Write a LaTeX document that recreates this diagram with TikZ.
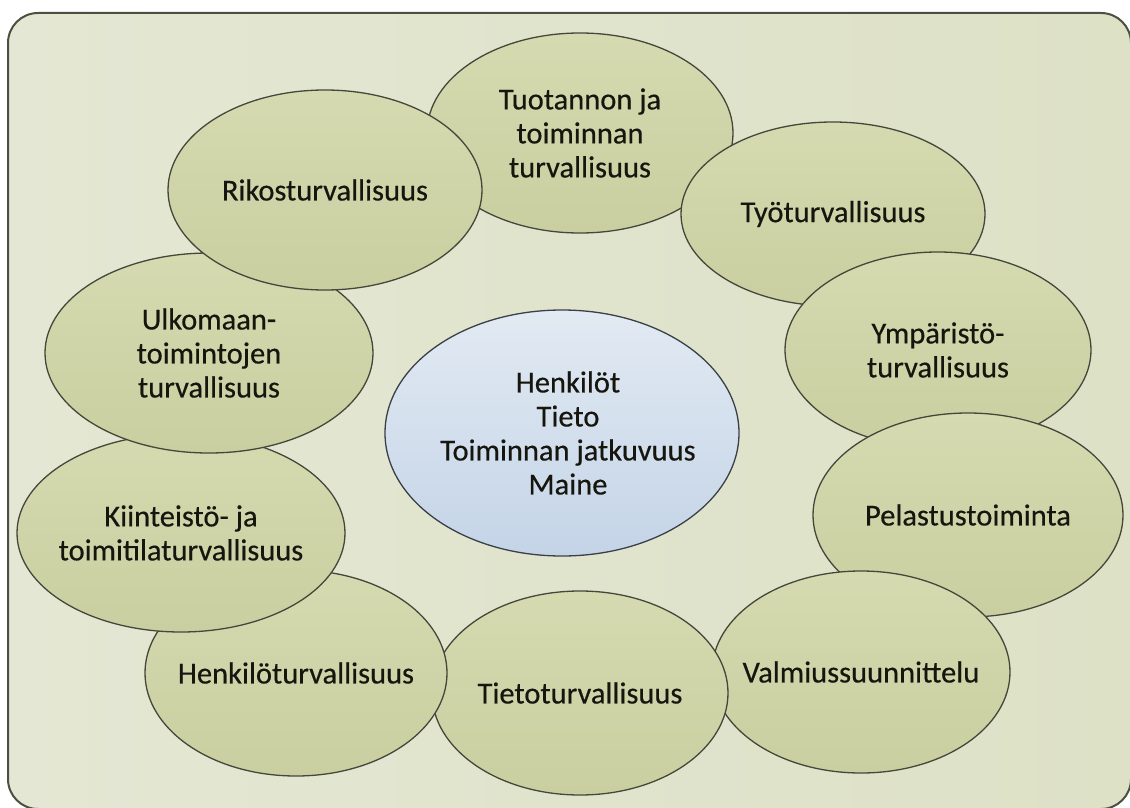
\documentclass[tikz,border=0pt]{standalone}
\usepackage{fontspec}
\setmainfont{Carlito}
\newfontfamily\lblfont{Carlito}[FakeBold=0.4]
\usetikzlibrary{shapes.geometric}
\definecolor{framefill}{HTML}{DDE1C6}
\definecolor{framefilltop}{HTML}{E4E7D3}
\definecolor{frameline}{HTML}{4B5040}
\definecolor{greentop}{HTML}{D5DAB0}
\definecolor{greenbot}{HTML}{C9CFA0}
\definecolor{ellline}{HTML}{45473A}
\definecolor{bluetop}{HTML}{E2EAF3}
\definecolor{bluebot}{HTML}{C4D4E7}
\definecolor{blueline}{HTML}{3A3F48}
\definecolor{txt}{HTML}{16160F}
\tikzset{
  bubble/.style={ellipse, draw=ellline, line width=1.3pt, top color=greentop, bottom color=greenbot, inner sep=0pt},
  core/.style={ellipse, draw=blueline, line width=1.3pt, top color=bluetop, bottom color=bluebot, inner sep=0pt},
  lbl/.style={align=center, text=txt, font=\lblfont\fontsize{30.5}{34}\selectfont, inner sep=0pt}
}
\begin{document}
\begin{tikzpicture}[x=1pt,y=-1pt]
\useasboundingbox (0,0) rectangle (1130,808);
\clip (0,0) rectangle (1130,808);
\fill[white] (0,0) rectangle (1130,808);
\draw[frameline, line width=2pt, rounded corners=30pt, left color=framefilltop, right color=framefill] (8,13) rectangle (1131,809);
% ellipses in stacking order
\node[bubble, minimum width=306pt, minimum height=200pt] (tuo) at (580,133) {};
\node[lbl] at (tuo) {Tuotannon ja\\toiminnan\\turvallisuus};
\node[bubble, minimum width=304pt, minimum height=184pt] (tyo) at (833,214) {};
\node[lbl] at (tyo) {Työturvallisuus};
\node[bubble, minimum width=306pt, minimum height=196pt] (ymp) at (938,350) {};
\node[lbl] at (ymp) {Ympäristö-\\turvallisuus};
\node[bubble, minimum width=310pt, minimum height=204pt] (pel) at (968,515) {};
\node[lbl] at (pel) {Pelastustoiminta};
\node[bubble, minimum width=298pt, minimum height=202pt] (val) at (861,672) {};
\node[lbl] at (val) {Valmiussuunnittelu};
\node[bubble, minimum width=296pt, minimum height=204pt] (tie) at (580,693) {};
\node[lbl] at (tie) {Tietoturvallisuus};
\node[bubble, minimum width=302pt, minimum height=206pt] (hen) at (296,673) {};
\node[lbl] at (hen) {Henkilöturvallisuus};
\node[bubble, minimum width=328pt, minimum height=198pt] (kii) at (181,533) {};
\node[lbl] at (kii) {Kiinteistö- ja\\toimitilaturvallisuus};
\node[bubble, minimum width=328pt, minimum height=200pt] (ulk) at (209,353) {};
\node[lbl] at (ulk) {Ulkomaan-\\toimintojen\\turvallisuus};
\node[bubble, minimum width=314pt, minimum height=200pt] (rik) at (325,190) {};
\node[lbl] at (rik) {Rikosturvallisuus};
% centre
\node[core, minimum width=354pt, minimum height=246pt] (core) at (562,433) {};
\node[lbl] at ([xshift=6pt]core.center) {Henkilöt\\Tieto\\Toiminnan jatkuvuus\\Maine};
\end{tikzpicture}
\end{document}
